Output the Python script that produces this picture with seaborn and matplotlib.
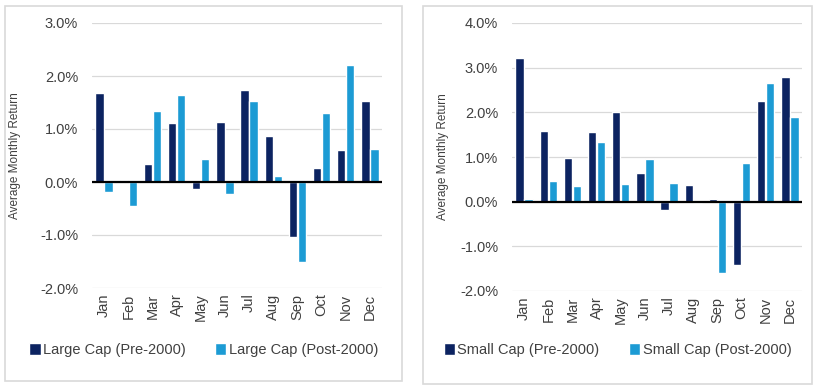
import pandas as pd
import matplotlib
matplotlib.use("Agg")
import matplotlib.pyplot as plt
from matplotlib.patches import Rectangle
from matplotlib.ticker import FuncFormatter
import seaborn as sns

months = ['Jan', 'Feb', 'Mar', 'Apr', 'May', 'Jun',
          'Jul', 'Aug', 'Sep', 'Oct', 'Nov', 'Dec']

# average monthly returns (%)
large_pre = [1.67, 0.04, 0.34, 1.11, -0.14, 1.14, 1.74, 0.87, -1.03, 0.26, 0.60, 1.52]
large_post = [-0.18, -0.45, 1.34, 1.65, 0.44, -0.22, 1.52, 0.11, -1.50, 1.31, 2.21, 0.62]
small_pre = [3.21, 1.59, 0.98, 1.56, 2.00, 0.64, -0.19, 0.37, 0.07, -1.42, 2.25, 2.78]
small_post = [0.07, 0.47, 0.35, 1.33, 0.40, 0.95, 0.41, -0.04, -1.60, 0.87, 2.65, 1.89]

navy = '#0c2361'
light = '#1c9bd4'


def long_df(pre, post, name):
    a = pd.DataFrame({'Month': months, 'Return': pre, 'Series': f'{name} (Pre-2000)'})
    b = pd.DataFrame({'Month': months, 'Return': post, 'Series': f'{name} (Post-2000)'})
    return pd.concat([a, b], ignore_index=True)


sns.set_theme(style="white")
plt.rcParams['font.family'] = ['Liberation Sans', 'DejaVu Sans']

fig = plt.figure(figsize=(8.25, 3.87), dpi=100)
W, H = 825, 387


def place(x0, y0, x1, y1):
    return [x0 / W, 1 - y1 / H, (x1 - x0) / W, (y1 - y0) / H]


pct = FuncFormatter(lambda v, _: f'{v:.1f}%'.replace('\u2212', '-'))

panels = [
    (long_df(large_pre, large_post, 'Large Cap'), (92, 23, 382, 288), (-2, 3), (5, 6, 402, 381), 15),
    (long_df(small_pre, small_post, 'Small Cap'), (512, 23, 802, 291), (-2, 4), (423, 6, 812, 384), 443),
]

for df, box, ylim, border, ylab_x in panels:
    fig.patches.append(Rectangle((border[0] / W, 1 - border[3] / H),
                                 (border[2] - border[0]) / W, (border[3] - border[1]) / H,
                                 transform=fig.transFigure, fill=False,
                                 edgecolor='#d9d9d9', linewidth=1.2))
    ax = fig.add_axes(place(*box))
    sns.barplot(data=df, x='Month', y='Return', hue='Series', ax=ax,
                palette=[navy, light], saturation=1, width=0.74, gap=0.06, legend=True)
    ax.set_ylim(*ylim)
    ax.set_yticks(range(ylim[0], ylim[1] + 1))
    ax.yaxis.set_major_formatter(pct)
    ax.grid(axis='y', color='#d9d9d9', linewidth=0.9)
    ax.set_axisbelow(True)
    ax.axhline(0, color='black', linewidth=1.6, zorder=5)
    for s in ax.spines.values():
        s.set_visible(False)
    ax.set_xlim(-0.5, 11.5)
    ax.tick_params(axis='x', rotation=90, labelsize=10.5, colors='#404040', length=0, pad=4)
    ax.tick_params(axis='y', labelsize=10.5, colors='#404040', length=0, pad=10)
    ax.set_xlabel('')
    ax.set_ylabel('')
    fig.text(ylab_x / W, 1 - ((box[1] + box[3]) / 2) / H, 'Average Monthly Return',
             rotation=90, ha='center', va='center', fontsize=8.5, color='#404040')
    handles, labels = ax.get_legend_handles_labels()
    ax.get_legend().remove()
    leg = ax.legend(handles, labels, ncol=2, frameon=False, loc='center',
                    bbox_to_anchor=(((border[0] + border[2]) / 2 - box[0]) / (box[2] - box[0]),
                                    (box[3] - 350) / (box[3] - box[1])),
                    fontsize=10.5, handlelength=0.8, handleheight=0.8, handletextpad=0.15,
                    columnspacing=2.0)
    for t in leg.get_texts():
        t.set_color('#404040')

fig.savefig('out.png', dpi=100)
